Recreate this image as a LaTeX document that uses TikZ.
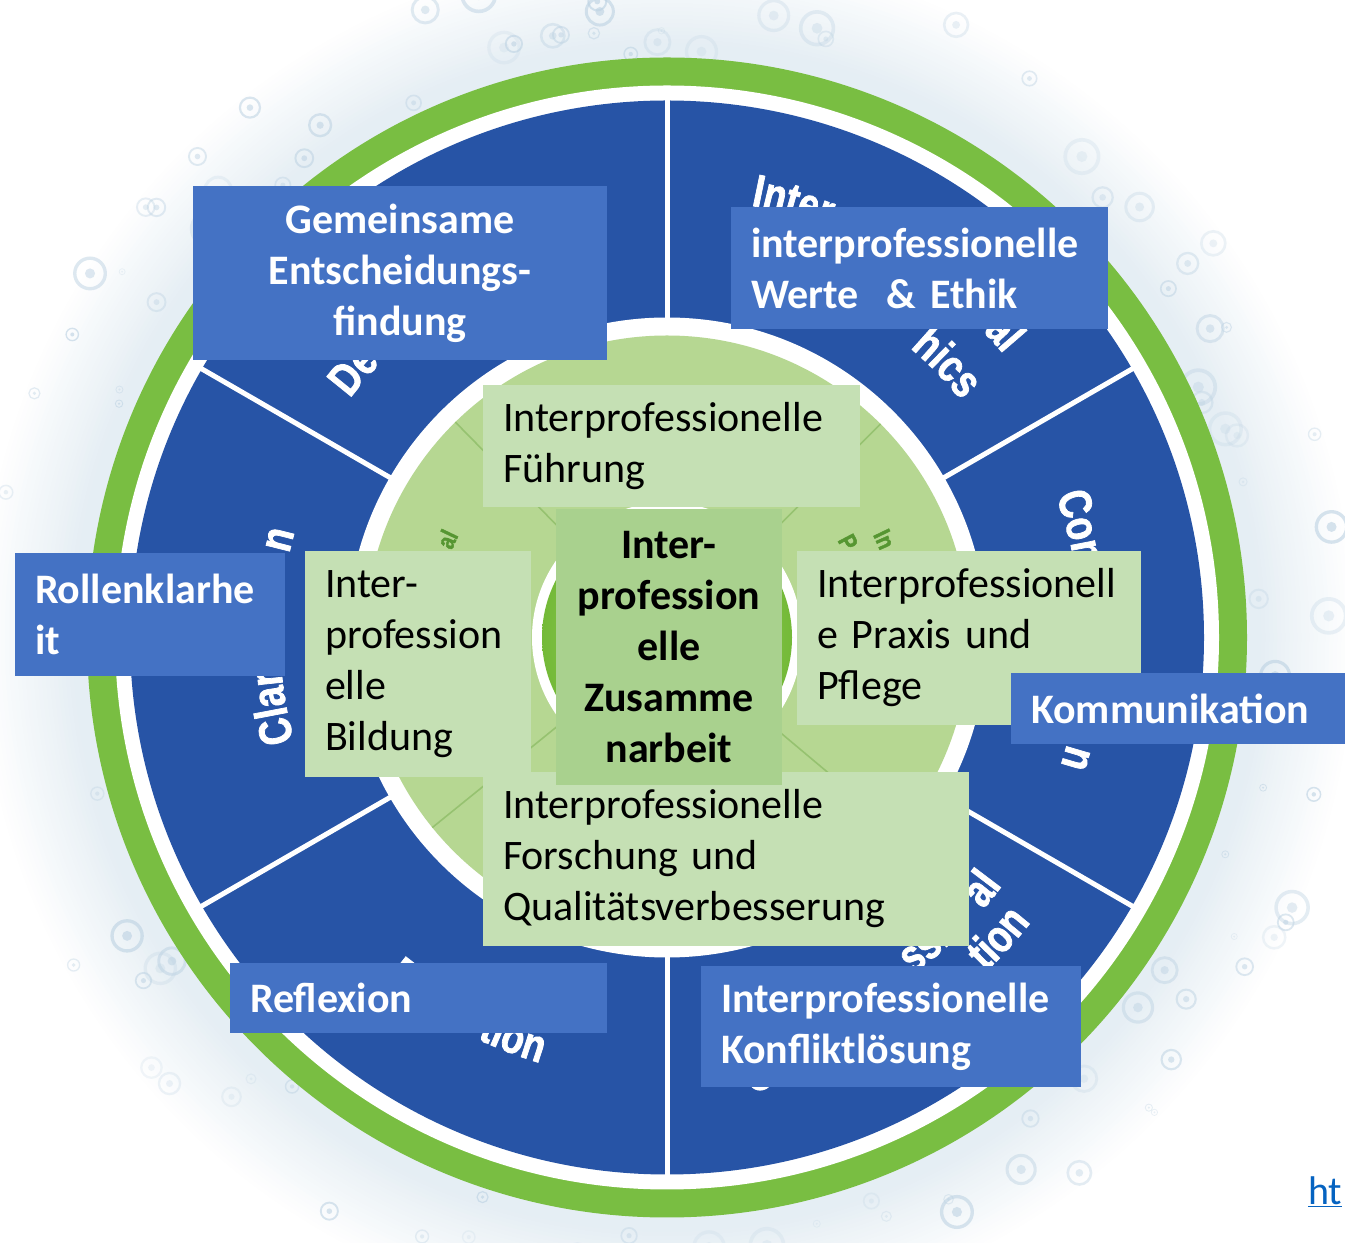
\documentclass[tikz,border=0pt]{standalone}
\usepackage{fontspec}
\setmainfont{Carlito}
\newfontfamily\arcfont[FakeStretch=0.8,FakeBold=1.6]{Liberation Sans}
\usetikzlibrary{decorations.text}

\definecolor{ringgreen}{RGB}{121,190,66}
\definecolor{wheelblue}{RGB}{39,84,166}
\definecolor{paleringgreen}{RGB}{182,215,146}
\definecolor{coregreen}{RGB}{116,186,56}
\definecolor{corelight}{RGB}{158,208,108}
\definecolor{boxblue}{RGB}{68,114,196}
\definecolor{boxgreen}{RGB}{197,224,180}
\definecolor{boxgreendark}{RGB}{169,209,142}
\definecolor{haze}{RGB}{228,237,243}
\definecolor{bubble}{RGB}{190,211,227}
\definecolor{innertext}{RGB}{86,150,50}
\definecolor{innerline}{RGB}{150,194,112}
\definecolor{linkblue}{RGB}{5,99,193}

\newcommand\wheelfont{\arcfont\bfseries\fontsize{46}{46}\selectfont}
\newcommand\ringfont{\arcfont\bfseries\fontsize{25}{25}\selectfont}

\tikzset{
  bluebox/.style={fill=boxblue, text=white, font=\bfseries\fontsize{42}{51}\selectfont,
    inner xsep=20pt, inner ysep=0pt, align=left},
  greenbox/.style={fill=boxgreen, text=black, font=\fontsize{42}{51}\selectfont,
    inner xsep=20pt, inner ysep=0pt, align=left},
  corebox/.style={fill=boxgreendark, text=black, font=\bfseries\fontsize{42}{51}\selectfont,
    inner xsep=20pt, inner ysep=0pt, align=center},
  divider/.style={white, line width=5pt},
  innerdivider/.style={innerline, line width=1.6pt},
  wheelword/.style={shift={(C)}, decorate,
    decoration={text along path, text color=white, text={|\wheelfont|#1}}},
  ringword/.style={shift={(C)}, decorate,
    decoration={text along path, text color=innertext, text={|\ringfont|#1}}},
}

\begin{document}
\begin{tikzpicture}[x=1pt, y=1pt]
\useasboundingbox (0,0) rectangle (1345,1243);
\fill[white] (0,0) rectangle (1345,1243);
\coordinate (C) at (667,605.5);

% soft halo with bubbles around the wheel
\begin{scope}
  \clip (0,0) rectangle (1345,1243);
  \foreach \i in {0,...,24}
    \fill[haze!\the\numexpr\i*4\relax] (C) circle ({690-\i*4});
  \pgfmathsetseed{2718}
  \foreach \k in {1,...,110}{
    \pgfmathsetmacro{\ang}{rnd*360}
    \pgfmathsetmacro{\rad}{584+rnd*100}
    \pgfmathsetmacro{\sz}{3+rnd*14}
    \pgfmathsetmacro{\op}{0.2+rnd*0.45}
    \draw[bubble, draw opacity=\op, line width={0.22*\sz}, shift={(C)}] (\ang:\rad) circle[radius=\sz];
    \fill[bubble, fill opacity=\op, shift={(C)}] (\ang:\rad) circle[radius={0.33*\sz}];
  }
\end{scope}

% rings of the wheel
\fill[ringgreen] (C) circle (580);
\fill[white] (C) circle (552);
\fill[wheelblue] (C) circle (537);
\fill[white] (C) circle (320);
\fill[paleringgreen] (C) circle (302);
\foreach \a in {30,90,...,330}
  \draw[divider, shift={(C)}] (\a:318) -- (\a:541);
\foreach \a in {45,134.5,219,320}
  \draw[innerdivider, shift={(C)}] (\a:136) -- (\a:302);
\fill[white] (C) circle (135);
\shade[inner color=corelight, outer color=coregreen] (C) circle (125);

% lettering on the outer ring
\path[wheelword=Inter] (79:440) arc[start angle=79, end angle=40, radius=440];
\path[wheelword=al] (44.1:440) arc[start angle=44.1, end angle=20, radius=440];
\path[wheelword=hics] (50:378) arc[start angle=50, end angle=20, radius=378];
\path[wheelword=Com] (20:414) arc[start angle=20, end angle=-10, radius=414];
\path[wheelword=n] (-14.9:414) arc[start angle=-14.9, end angle=-30, radius=414];
\path[wheelword=ssi] (-53.9:417) arc[start angle=-53.9, end angle=-20, radius=417];
\path[wheelword=al] (-40.7:417) arc[start angle=-40.7, end angle=-20, radius=417];
\path[wheelword=Co] (-79.8:462) arc[start angle=-79.8, end angle=-60, radius=462];
\path[wheelword=tion] (-46.4:462) arc[start angle=-46.4, end angle=-20, radius=462];
\path[wheelword=R] (-129.5:444) arc[start angle=-129.5, end angle=-110, radius=444];
\path[wheelword=tion] (-115.3:444) arc[start angle=-115.3, end angle=-90, radius=444];
\path[wheelword=Clar] (195.5:387) arc[start angle=195.5, end angle=170, radius=387];
\path[wheelword=n] (167.5:387) arc[start angle=167.5, end angle=150, radius=387];
\path[wheelword=De] (143:397) arc[start angle=143, end angle=120, radius=397];

% lettering on the inner ring
\path[ringword=al] (158:232) arc[start angle=158, end angle=140, radius=232];
\path[ringword=In] (26.5:230) arc[start angle=26.5, end angle=5, radius=230];
\path[ringword=P] (29.7:196) arc[start angle=29.7, end angle=10, radius=196];

% inner labels
\node[greenbox, minimum width=377, minimum height=122, text width=337pt] (fuehrung) at (671.5,797)
  {Interprofessionelle\\Führung};
\node[greenbox, minimum width=226, minimum height=226, text width=186pt] (bildung) at (418,579)
  {Inter-\\profession\\elle\\Bildung};
\node[greenbox, minimum width=344, minimum height=174, text width=304pt] (praxis) at (969,605)
  {Interprofessionell\\e Praxis und\\Pflege};
\node[greenbox, minimum width=486, minimum height=174, text width=446pt] (forschung) at (726,384)
  {Interprofessionelle\\Forschung und\\Qualitätsverbesserung};
\node[corebox, minimum width=226, minimum height=276, text width=186pt] (core) at (669,596)
  {Inter-\\profession\\elle\\Zusamme\\narbeit};

% outer labels
\node[bluebox, minimum width=414, minimum height=174, text width=374pt, align=center] (entscheidung) at (400,970)
  {Gemeinsame\\Entscheidungs-\\findung};
\node[bluebox, minimum width=377, minimum height=122, text width=337pt] (ethik) at (919.5,975)
  {interprofessionelle\\Werte\ \ \& Ethik};
\node[bluebox, minimum width=270, minimum height=123, text width=230pt] (rollen) at (150,628.5)
  {Rollenklarhe\\it};
\node[bluebox, minimum width=334, minimum height=71, text width=294pt] (kommunikation) at (1178,534.5)
  {Kommunikation};
\node[bluebox, minimum width=377, minimum height=70, text width=337pt] (reflexion) at (418.5,245)
  {Reflexion};
\node[bluebox, minimum width=380, minimum height=121, text width=340pt] (konflikt) at (891,216.5)
  {Interprofessionelle\\Konfliktlösung};

% source link at the page corner
\node[anchor=base west, text=linkblue, font=\fontsize{40}{48}\selectfont, inner sep=0pt] (link) at (1308,38)
  {\underline{ht}};
\end{tikzpicture}
\end{document}
